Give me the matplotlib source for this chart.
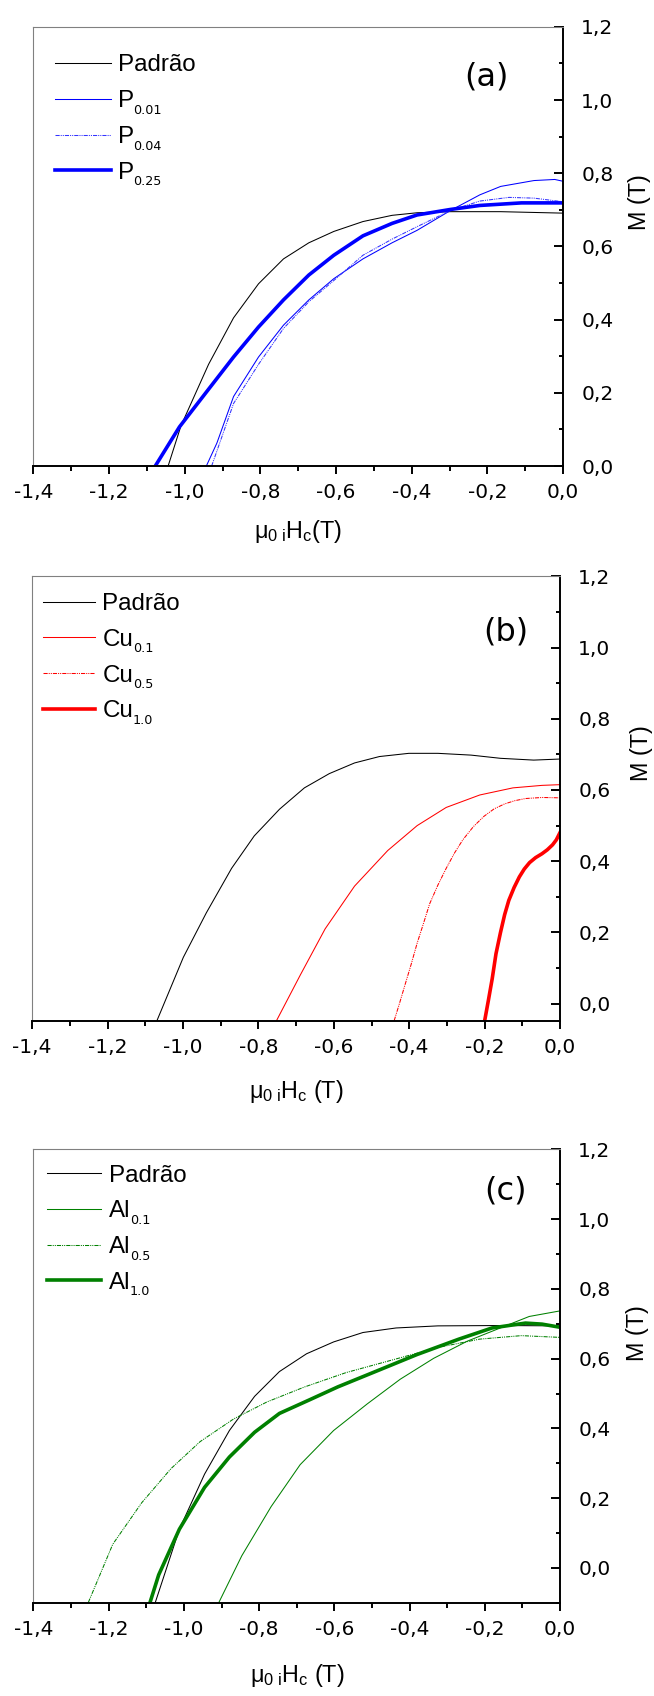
import matplotlib
matplotlib.use("Agg")
import matplotlib.pyplot as plt
from matplotlib.ticker import MultipleLocator, FuncFormatter

plt.rcParams['font.family'] = ['Liberation Sans', 'DejaVu Sans']
plt.rcParams['mathtext.fontset'] = 'custom'
plt.rcParams['mathtext.rm'] = 'Liberation Sans'
plt.rcParams['mathtext.it'] = 'Liberation Sans'
plt.rcParams['axes.unicode_minus'] = False

# ---------------- data ----------------
# panel (a)
pad_a_x = [-1.044, -1.01, -0.937, -0.871, -0.805, -0.739, -0.672, -0.606, -0.529, -0.452, -0.386, -0.298, -0.165, 0.0]
pad_a_y = [0.0, 0.11, 0.278, 0.405, 0.498, 0.566, 0.61, 0.641, 0.668, 0.685, 0.692, 0.695, 0.695, 0.691]
p01_x = [-0.943, -0.915, -0.871, -0.805, -0.739, -0.672, -0.606, -0.529, -0.452, -0.386, -0.298, -0.22, -0.165, -0.077, -0.022, 0.0]
p01_y = [0.0, 0.063, 0.19, 0.298, 0.385, 0.454, 0.512, 0.566, 0.61, 0.644, 0.698, 0.741, 0.764, 0.78, 0.783, 0.778]
p04_x = [-0.929, -0.871, -0.805, -0.739, -0.672, -0.606, -0.529, -0.452, -0.386, -0.298, -0.22, -0.143, -0.077, 0.0]
p04_y = [0.0, 0.171, 0.278, 0.376, 0.449, 0.507, 0.576, 0.62, 0.654, 0.698, 0.724, 0.734, 0.732, 0.722]
p25_x = [-1.078, -1.014, -0.937, -0.871, -0.805, -0.739, -0.672, -0.606, -0.529, -0.452, -0.386, -0.298, -0.22, -0.11, 0.0]
p25_y = [0.0, 0.107, 0.21, 0.298, 0.38, 0.454, 0.522, 0.576, 0.629, 0.663, 0.686, 0.701, 0.712, 0.719, 0.719]

# panel (b)
pad_b_x = [-1.069, -0.999, -0.938, -0.871, -0.811, -0.744, -0.678, -0.612, -0.545, -0.479, -0.401, -0.324, -0.236, -0.158, -0.07, 0.0]
pad_b_y = [-0.048, 0.13, 0.255, 0.38, 0.471, 0.546, 0.606, 0.646, 0.676, 0.694, 0.703, 0.703, 0.698, 0.689, 0.684, 0.687]
cu01_x = [-0.752, -0.689, -0.623, -0.545, -0.457, -0.379, -0.302, -0.213, -0.125, -0.048, 0.0]
cu01_y = [-0.048, 0.08, 0.21, 0.33, 0.43, 0.5, 0.551, 0.586, 0.606, 0.613, 0.615]
cu05_x = [-0.44, -0.426, -0.412, -0.395, -0.379, -0.362, -0.346, -0.324, -0.302, -0.28, -0.258, -0.23, -0.202, -0.175, -0.147, -0.12, -0.092, -0.048, 0.0]
cu05_y = [-0.048, 0.0, 0.05, 0.11, 0.17, 0.226, 0.28, 0.333, 0.38, 0.423, 0.46, 0.497, 0.526, 0.547, 0.561, 0.57, 0.576, 0.579, 0.578]
cu10_x = [-0.2, -0.19, -0.18, -0.17, -0.158, -0.147, -0.136, -0.122, -0.108, -0.095, -0.081, -0.065, -0.048, -0.034, -0.02, -0.01, 0.0]
cu10_y = [-0.048, 0.01, 0.07, 0.14, 0.2, 0.25, 0.29, 0.326, 0.356, 0.378, 0.396, 0.41, 0.421, 0.432, 0.446, 0.46, 0.481]

# panel (c)
pad_c_x = [-1.076, -1.012, -0.945, -0.879, -0.812, -0.746, -0.674, -0.602, -0.524, -0.436, -0.325, -0.159, 0.0]
pad_c_y = [-0.099, 0.111, 0.269, 0.394, 0.492, 0.563, 0.614, 0.648, 0.675, 0.688, 0.694, 0.695, 0.694]
al01_x = [-0.907, -0.846, -0.768, -0.691, -0.602, -0.513, -0.425, -0.336, -0.247, -0.159, -0.082, 0.0]
al01_y = [-0.099, 0.035, 0.176, 0.296, 0.394, 0.47, 0.541, 0.601, 0.65, 0.688, 0.721, 0.737]
al05_x = [-1.254, -1.189, -1.112, -1.034, -0.957, -0.868, -0.779, -0.679, -0.569, -0.447, -0.325, -0.214, -0.103, 0.0]
al05_y = [-0.099, 0.068, 0.187, 0.285, 0.362, 0.427, 0.476, 0.519, 0.56, 0.596, 0.632, 0.656, 0.666, 0.661]
al10_x = [-1.09, -1.067, -1.012, -0.945, -0.879, -0.812, -0.746, -0.668, -0.591, -0.491, -0.38, -0.269, -0.181, -0.092, -0.048, 0.0]
al10_y = [-0.099, -0.02, 0.111, 0.231, 0.318, 0.389, 0.443, 0.481, 0.519, 0.563, 0.612, 0.656, 0.688, 0.702, 0.699, 0.69]

panel_tags = ['(a)', '(b)', '(c)']
ylims = [(0.0, 1.2), (-0.05, 1.2), (-0.1, 1.2)]
xlabels = ['μ$_{\\mathrm{0\\ i}}$H$_{\\mathrm{c}}$(T)',
           'μ$_{\\mathrm{0\\ i}}$H$_{\\mathrm{c}}$ (T)',
           'μ$_{\\mathrm{0\\ i}}$H$_{\\mathrm{c}}$ (T)']

THIN = 0.75
THICK = 2.6
DASHDOT = (0, (4, 1, 1, 1, 1, 1))

# (x, y, colour, width, style, legend base, legend subscript)
panels = [
    [(pad_a_x, pad_a_y, 'black', THIN, '-', 'Padrão', ''),
     (p01_x, p01_y, '#0000ff', THIN, '-', 'P', '0.01'),
     (p04_x, p04_y, '#3333ff', THIN, DASHDOT, 'P', '0.04'),
     (p25_x, p25_y, '#0000ff', THICK, '-', 'P', '0.25')],
    [(pad_b_x, pad_b_y, 'black', THIN, '-', 'Padrão', ''),
     (cu01_x, cu01_y, '#ff0000', THIN, '-', 'Cu', '0.1'),
     (cu05_x, cu05_y, '#ff0000', THIN, DASHDOT, 'Cu', '0.5'),
     (cu10_x, cu10_y, '#ff0000', THICK, '-', 'Cu', '1.0')],
    [(pad_c_x, pad_c_y, 'black', THIN, '-', 'Padrão', ''),
     (al01_x, al01_y, '#008000', THIN, '-', 'Al', '0.1'),
     (al05_x, al05_y, '#008000', THIN, DASHDOT, 'Al', '0.5'),
     (al10_x, al10_y, '#008000', THICK, '-', 'Al', '1.0')],
]

W, H = 654, 1696
# axes boxes in pixels: left, top, right, bottom
boxes = [(33.4, 26.8, 563.1, 466.1),
         (32.1, 576.4, 560.1, 1021.4),
         (33.4, 1149.4, 560.1, 1602.8)]
tag_pos = [(0.856, 0.886), (0.897, 0.875), (0.897, 0.908)]
ylab_pos = [(1.145, 0.60), (1.155, 0.604), (1.147, 0.594)]
xlab_y = [-0.15, -0.157, -0.161]
leg_anchor = [(0.041, 0.937), (0.021, 0.9627), (0.025, 0.9665)]
leg_hlen = [2.3, 2.15, 2.27]

fmt = FuncFormatter(lambda v, p: ('%.1f' % (0.0 if abs(v) < 1e-9 else v)).replace('.', ','))

fig = plt.figure(figsize=(W / 100, H / 100), dpi=100)
legends = []
for i, series in enumerate(panels):
    l, t, r, b = boxes[i]
    ax = fig.add_axes([l / W, 1 - b / H, (r - l) / W, (b - t) / H])
    for xs, ys, c, lw, ls, lab, sb in series:
        ax.plot(xs, ys, color=c, lw=lw, ls=ls, label=lab, solid_joinstyle='round')
    ax.set_xlim(-1.4, 0.0)
    ax.set_ylim(*ylims[i])
    ax.xaxis.set_major_locator(MultipleLocator(0.2))
    ax.xaxis.set_minor_locator(MultipleLocator(0.1))
    ax.yaxis.set_major_locator(MultipleLocator(0.2))
    ax.yaxis.set_minor_locator(MultipleLocator(0.1))
    ax.xaxis.set_major_formatter(fmt)
    ax.yaxis.set_major_formatter(fmt)
    ax.yaxis.tick_right()
    ax.tick_params(axis='x', which='both', direction='out', width=1.4, labelsize=14.5,
                   pad=6.5, labelfontfamily='DejaVu Sans')
    ax.tick_params(axis='x', which='major', length=5.8)
    ax.tick_params(axis='x', which='minor', length=3.3)
    ax.tick_params(axis='y', which='both', direction='in', width=1.4, labelsize=14.5, pad=13,
                   left=False, right=True, labelleft=False, labelright=True,
                   labelfontfamily='DejaVu Sans')
    ax.tick_params(axis='y', which='major', length=6.2)
    ax.tick_params(axis='y', which='minor', length=3.2)
    for s in ['left', 'top']:
        ax.spines[s].set_color('#808080')
        ax.spines[s].set_linewidth(0.8)
    for s in ['right', 'bottom']:
        ax.spines[s].set_color('black')
        ax.spines[s].set_linewidth(1.4)
    ax.text(tag_pos[i][0], tag_pos[i][1], panel_tags[i], transform=ax.transAxes,
            ha='center', va='center', fontsize=23, family='DejaVu Sans')
    ax.text(ylab_pos[i][0], ylab_pos[i][1], 'M (T)', transform=ax.transAxes,
            ha='center', va='center', rotation=90, fontsize=16.8)
    ax.text(0.5, xlab_y[i], xlabels[i], transform=ax.transAxes,
            ha='center', va='center', fontsize=16.8)
    leg = ax.legend(loc='upper left', bbox_to_anchor=leg_anchor[i], frameon=False,
                    fontsize=17.4, handlelength=leg_hlen[i], handletextpad=0.3,
                    labelspacing=0.57, borderpad=0, borderaxespad=0)
    legends.append((leg, [s[6] for s in series]))

# subscripts of the legend labels, placed right after each label
fig.canvas.draw()
renderer = fig.canvas.get_renderer()
for leg, subs in legends:
    for txt, sb in zip(leg.get_texts(), subs):
        if not sb:
            continue
        bb = txt.get_window_extent(renderer)
        fig.text((bb.x1 - 0.5) / fig.bbox.width, (bb.y0 - 1.5) / fig.bbox.height, sb,
                 fontsize=9.2, ha='left', va='baseline', family='DejaVu Sans')

fig.savefig('out.png', dpi=100)
